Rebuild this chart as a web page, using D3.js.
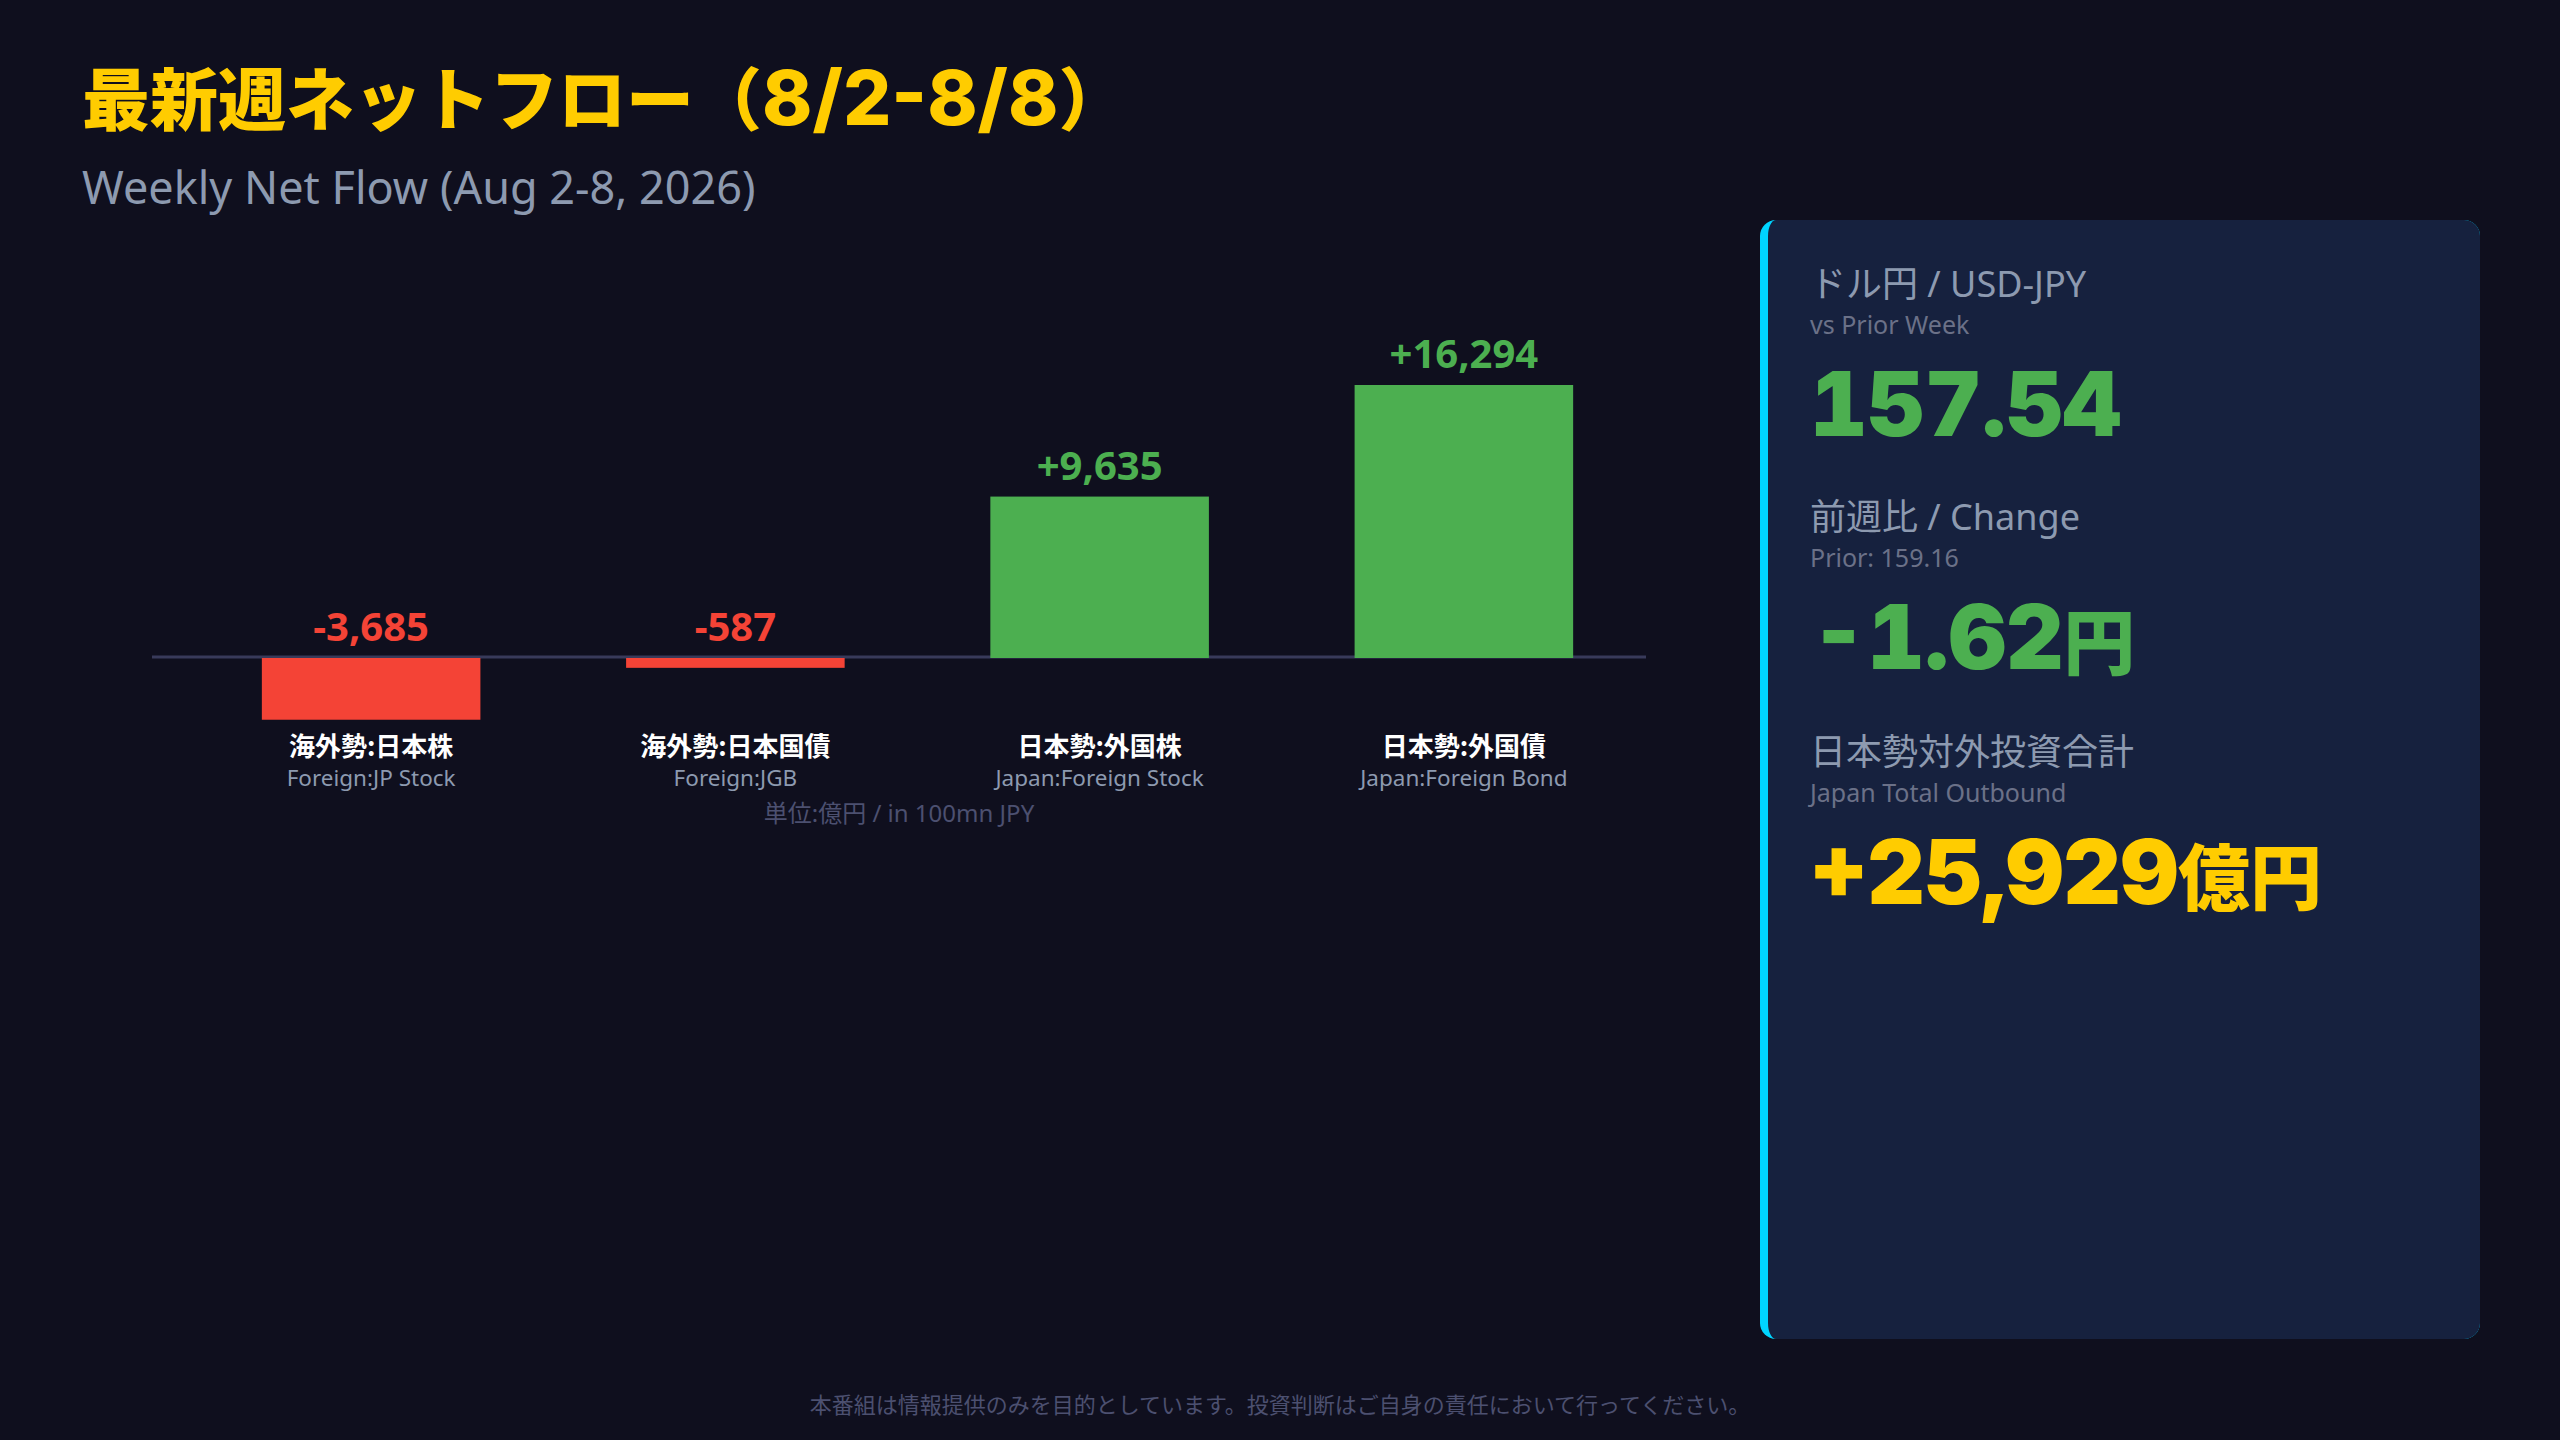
<!DOCTYPE html>
<html>
<head>
<meta charset="utf-8">
<script src="https://cdn.jsdelivr.net/npm/d3@7"></script>
<style>
	html, body { margin: 0; padding: 0; background: #0f0f1e; }
	svg { display: block; }
</style>
</head>
<body>
<svg id="chart" width="2560" height="1440"></svg>
<script>
// chart data
const categories = ['海外勢:日本株', '海外勢:日本国債', '日本勢:外国株', '日本勢:外国債']
const categoriesEn = ['Foreign:JP Stock', 'Foreign:JGB', 'Japan:Foreign Stock', 'Japan:Foreign Bond']
const flows = [-3685, -587, 9635, 16294]
const outboundIdx = [2, 3] // Japanese investors buying abroad

// fx panel
const usdJpy = 157.54
const usdJpyPrior = 159.16

const titleParts = ['最新週ネットフロー（', '8/2-8/8', '）']
const subtitle = 'Weekly Net Flow (Aug 2-8, 2026)'
const unitNote = '単位:億円 / in 100mn JPY'
const disclaimer = '本番組は情報提供のみを目的としています。投資判断はご自身の責任において行ってください。'

const W = 2560
const H = 1440
const C = {
	bg: '#0f0f1e',
	panel: '#16213e',
	accent: '#00d4ff',
	yellow: '#ffcc00',
	up: '#4caf50',
	down: '#f44336',
	label: '#8d9ab0',
	dim: '#6b7188',
	faint: '#4c5070',
	axis: '#383a5a',
}
const LATIN = '"Noto Sans", "Noto Sans CJK JP", sans-serif'
const CJK = '"Noto Sans CJK JP", "Noto Sans", sans-serif'
const HEAVY = 'Inter, "Noto Sans CJK JP", sans-serif'

const svg = d3.select('#chart')

svg.append('rect')
	.attr('width', W)
	.attr('height', H)
	.attr('fill', C.bg)

// heading, the date in a wider latin face like the original
const head = svg.append('text')
	.attr('x', 82)
	.attr('y', 125)
	.attr('fill', C.yellow)
	.style('font-family', CJK)
	.style('font-weight', 900)
	.style('font-size', '68px')

head.selectAll('tspan')
	.data(titleParts)
	.join('tspan')
	.style('font-family', (d, i) => i === 1 ? HEAVY : CJK)
	.style('font-weight', (d, i) => i === 1 ? 800 : 900)
	.style('font-size', (d, i) => i === 1 ? '76px' : '68px')
	.text((d) => d)

svg.append('text')
	.attr('x', 82)
	.attr('y', 204)
	.attr('fill', C.label)
	.style('font-family', LATIN)
	.style('font-size', '45px')
	.text(subtitle)

// bars
const plot = { left: 152, bandLeft: 189, right: 1646, zero: 658, top: 385 }

const x = d3.scaleBand()
	.domain(categories)
	.range([plot.bandLeft, plot.right])
	.paddingInner(0.4)
	.paddingOuter(0.2)

const y = d3.scaleLinear()
	.domain([0, d3.max(flows)])
	.range([plot.zero, plot.top])

const rows = categories.map((c, i) => ({ cat: c, en: categoriesEn[i], v: flows[i] }))

svg.append('line')
	.attr('x1', plot.left)
	.attr('x2', plot.right)
	.attr('y1', y(0) - 1)
	.attr('y2', y(0) - 1)
	.attr('stroke', C.axis)
	.attr('stroke-width', 3)

const bars = svg.append('g').selectAll('g')
	.data(rows)
	.join('g')

bars.append('rect')
	.attr('x', (d) => x(d.cat))
	.attr('width', x.bandwidth())
	.attr('y', (d) => Math.min(y(d.v), y(0)))
	.attr('height', (d) => Math.abs(y(d.v) - y(0)))
	.attr('fill', (d) => d.v < 0 ? C.down : C.up)

const fmt = d3.format('+,')
const sign = (v) => fmt(v).replace('−', '-')

bars.append('text')
	.attr('x', (d) => x(d.cat) + x.bandwidth() / 2)
	.attr('y', (d) => Math.min(y(d.v), y(0)) - 17)
	.attr('text-anchor', 'middle')
	.attr('fill', (d) => d.v < 0 ? C.down : C.up)
	.style('font-family', LATIN)
	.style('font-weight', 700)
	.style('font-size', '40px')
	.text((d) => sign(d.v))

bars.append('text')
	.attr('x', (d) => x(d.cat) + x.bandwidth() / 2)
	.attr('y', 756)
	.attr('text-anchor', 'middle')
	.attr('fill', '#ffffff')
	.style('font-family', CJK)
	.style('font-weight', 700)
	.style('font-size', '26px')
	.text((d) => d.cat)

bars.append('text')
	.attr('x', (d) => x(d.cat) + x.bandwidth() / 2)
	.attr('y', 786)
	.attr('text-anchor', 'middle')
	.attr('fill', C.label)
	.style('font-family', LATIN)
	.style('font-size', '22.5px')
	.text((d) => d.en)

svg.append('text')
	.attr('x', (plot.left + plot.right) / 2)
	.attr('y', 822)
	.attr('text-anchor', 'middle')
	.attr('fill', C.faint)
	.style('font-family', LATIN)
	.style('font-size', '24px')
	.text(unitNote)

// side panel
const P = { x: 1760, y: 220, w: 720, h: 1119, r: 16, b: 8 }

svg.append('rect')
	.attr('x', P.x)
	.attr('y', P.y)
	.attr('width', P.w)
	.attr('height', P.h)
	.attr('rx', P.r)
	.attr('fill', C.accent)

// inner box, left corners follow the border's inner curve
const ix = P.x + P.b
const rx = P.r - P.b
const path = d3.path()
path.moveTo(ix + rx, P.y)
path.lineTo(P.x + P.w - P.r, P.y)
path.arcTo(P.x + P.w, P.y, P.x + P.w, P.y + P.r, P.r)
path.lineTo(P.x + P.w, P.y + P.h - P.r)
path.arcTo(P.x + P.w, P.y + P.h, P.x + P.w - P.r, P.y + P.h, P.r)
path.lineTo(ix + rx, P.y + P.h)
path.bezierCurveTo(ix + rx * 0.45, P.y + P.h, ix, P.y + P.h - P.r * 0.45, ix, P.y + P.h - P.r)
path.lineTo(ix, P.y + P.r)
path.bezierCurveTo(ix, P.y + P.r * 0.45, ix + rx * 0.45, P.y, ix + rx, P.y)
path.closePath()

svg.append('path')
	.attr('d', path.toString())
	.attr('fill', C.panel)

const change = usdJpy - usdJpyPrior
const outbound = d3.sum(outboundIdx, (i) => flows[i])

const stats = [
	{ head: 'ドル円 / USD-JPY', sub: 'vs Prior Week', num: usdJpy.toFixed(2), unit: '', color: C.up, y: 297 },
	{ head: '前週比 / Change', sub: 'Prior: ' + usdJpyPrior.toFixed(2), num: change.toFixed(2), unit: '円', color: C.up, y: 530 },
	{ head: '日本勢対外投資合計', sub: 'Japan Total Outbound', num: sign(outbound), unit: '億円', color: C.yellow, y: 765 },
]

const st = svg.append('g').selectAll('g')
	.data(stats)
	.join('g')
	.attr('transform', (d) => `translate(${P.x + 50},${d.y})`)

st.append('text')
	.attr('fill', C.label)
	.style('font-family', LATIN)
	.style('font-size', '36px')
	.text((d) => d.head)

st.append('text')
	.attr('y', 37)
	.attr('fill', C.dim)
	.style('font-family', LATIN)
	.style('font-size', '25px')
	.text((d) => d.sub)

const big = st.append('text')
	.attr('x', 0)
	.attr('y', 139)
	.attr('fill', (d) => d.color)
	.style('font-weight', 900)

big.append('tspan')
	.style('font-family', HEAVY)
	.style('font-size', '89px')
	.style('font-variant-numeric', 'tabular-nums')
	.text((d) => d.num)

big.append('tspan')
	.style('font-family', CJK)
	.style('font-size', '72px')
	.text((d) => d.unit)

svg.append('text')
	.attr('x', W / 2)
	.attr('y', 1413)
	.attr('text-anchor', 'middle')
	.attr('fill', C.faint)
	.style('font-family', CJK)
	.style('font-size', '22px')
	.text(disclaimer)
</script>
</body>
</html>
